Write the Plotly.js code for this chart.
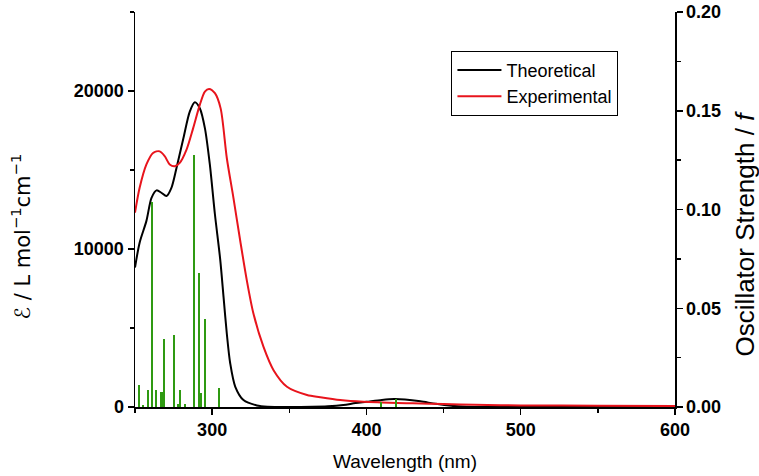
<!DOCTYPE html>
<html>
<head>
<meta charset="utf-8">
<script src="https://cdn.plot.ly/plotly-3.0.1.min.js"></script>
<style>html,body{margin:0;padding:0;background:#fff;}#chart{width:759px;height:476px;}</style>
</head>
<body>
<div id="chart"></div>
<script>
// Theoretical absorption spectrum (L mol^-1 cm^-1)
var theoWl = [250, 253, 257.4, 260.7, 264, 267.1, 270.4, 273.6, 276.9, 281.4, 285.5, 288.8, 292, 295.3, 298.5, 301.8, 305.2, 307.4, 309.5, 311.7, 315, 320.3, 329, 336, 350, 365, 375, 385, 393, 400, 410, 418, 425, 435, 445, 455, 465, 480, 500, 600];
var theoEps = [8830, 10400, 11780, 13240, 13710, 13560, 13350, 13870, 15130, 17020, 18700, 19290, 18910, 17650, 15350, 12200, 9360, 6950, 4650, 2770, 1280, 440, 100, 20, 0, 10, 40, 120, 250, 330, 450, 500, 470, 360, 200, 80, 20, 0, 0, 0];

// Experimental absorption spectrum
var expWl = [250, 253, 257.4, 261.7, 266, 269.3, 272.5, 275.8, 279, 283.4, 287.7, 292, 295.3, 298, 301.8, 305.5, 309.5, 313.8, 318.2, 322.5, 326.8, 333.3, 339.8, 348.5, 361.5, 370, 383, 398, 410, 420, 430, 450, 470, 500, 550, 600];
var expEps = [12300, 13870, 15350, 16080, 16180, 15870, 15350, 15240, 15450, 16290, 17650, 19120, 19960, 20130, 19860, 18900, 15760, 13240, 10520, 8000, 5900, 3800, 2330, 1280, 760, 620, 440, 330, 290, 260, 230, 190, 140, 100, 80, 60];

// Calculated transitions: wavelength (nm) and oscillator strength f
var stickWl = [252.4, 255.4, 258.2, 260.8, 263.4, 266.6, 267.4, 268.6, 275.3, 277.6, 278.9, 282.6, 288.1, 291.6, 292.7, 295.5, 304.5, 409.5, 419.3];
var stickF  = [0.0111, 0.0008, 0.0088, 0.1037, 0.0088, 0.0076, 0.0076, 0.0343, 0.0364, 0.0017, 0.0088, 0.0013, 0.1278, 0.0678, 0.0069, 0.0446, 0.0094, 0.0025, 0.0039];

var seriesNames = ['Theoretical', 'Experimental'];

var FONT = 'Liberation Sans, Arial, sans-serif';
var tickFont = {family: FONT, size: 18, color: '#000', weight: 'bold'};

var traces = [
  {
    x: stickWl, y: stickF, type: 'bar', yaxis: 'y2', width: 1.3,
    marker: {color: '#2f9a12', line: {width: 0}},
    showlegend: false, hoverinfo: 'x+y'
  },
  {
    x: theoWl, y: theoEps, type: 'scatter', mode: 'lines', name: seriesNames[0],
    line: {color: '#000000', width: 2, shape: 'spline', smoothing: 0.8}
  },
  {
    x: expWl, y: expEps, type: 'scatter', mode: 'lines', name: seriesNames[1],
    line: {color: '#e8141c', width: 2, shape: 'spline', smoothing: 0.8}
  }
];

var layout = {
  width: 759, height: 476,
  margin: {l: 135, r: 84, t: 12, b: 69},
  paper_bgcolor: '#fff', plot_bgcolor: '#fff',
  showlegend: true,
  legend: {
    x: 0.586, y: 0.902, xanchor: 'left', yanchor: 'top',
    bordercolor: '#000', borderwidth: 1, bgcolor: '#fff',
    font: {family: FONT, size: 18, color: '#000'},
    tracegroupgap: 0, itemwidth: 44
  },
  xaxis: {
    range: [250, 600], tick0: 0, dtick: 100,
    showgrid: false, zeroline: false,
    showline: true, linecolor: '#000', linewidth: 1.5,
    ticks: 'outside', ticklen: 6, tickwidth: 1.5, tickcolor: '#000',
    minor: {dtick: 50, tick0: 0, ticks: 'outside', ticklen: 4, tickwidth: 1.5, tickcolor: '#000', showgrid: false},
    tickfont: tickFont,
    title: {text: 'Wavelength (nm)', font: {family: FONT, size: 19, color: '#000'}, standoff: 15}
  },
  yaxis: {
    range: [0, 25000], tick0: 0, dtick: 10000, tickformat: 'd',
    showgrid: false, zeroline: false,
    showline: true, linecolor: '#000', linewidth: 1.5,
    ticks: 'outside', ticklen: 6, tickwidth: 1.5, tickcolor: '#000',
    minor: {dtick: 5000, tick0: 0, ticks: 'outside', ticklen: 4, tickwidth: 1.5, tickcolor: '#000', showgrid: false},
    tickfont: tickFont
  },
  yaxis2: {
    overlaying: 'y', side: 'right',
    range: [0, 0.2], tick0: 0, dtick: 0.05, tickformat: '.2f',
    showgrid: false, zeroline: false,
    showline: true, linecolor: '#000', linewidth: 1.5,
    ticks: 'outside', ticklen: 6, tickwidth: 1.5, tickcolor: '#000',
    minor: {dtick: 0.025, tick0: 0, ticks: 'outside', ticklen: 4, tickwidth: 1.5, tickcolor: '#000', showgrid: false},
    tickfont: tickFont
  },
  annotations: [
    {
      text: '<i>ℰ</i> / L mol<sup>−1</sup>cm<sup>−1</sup>',
      xref: 'paper', yref: 'paper', x: -0.21, y: 0.43, xanchor: 'center', yanchor: 'middle',
      textangle: -90, showarrow: false,
      font: {family: 'DejaVu Sans, Liberation Sans, sans-serif', size: 21, color: '#000'}
    },
    {
      text: 'Oscillator Strength / <i>f</i>',
      xref: 'paper', yref: 'paper', x: 1.13, y: 0.44, xanchor: 'center', yanchor: 'middle',
      textangle: -90, showarrow: false,
      font: {family: FONT, size: 26, color: '#000'}
    }
  ],
  bargap: 0
};

Plotly.newPlot('chart', traces, layout, {displayModeBar: false, staticPlot: true});
</script>
</body>
</html>
